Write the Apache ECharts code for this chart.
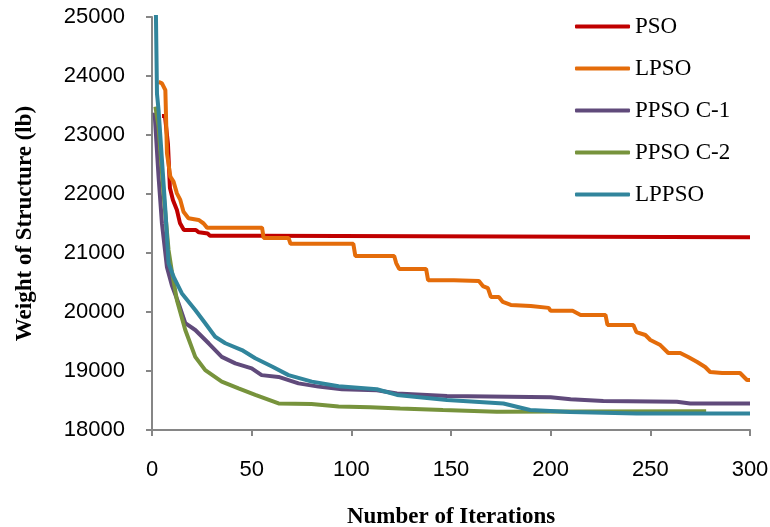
<!DOCTYPE html>
<html>
<head>
<meta charset="utf-8">
<title>Weight of Structure vs Iterations</title>
<script src="https://cdn.jsdelivr.net/npm/echarts@6/dist/echarts.min.js"></script>
<style>
  html, body { margin: 0; padding: 0; background: #fff; }
  #chart { width: 770px; height: 527px; }
</style>
</head>
<body>
<div id="chart"></div>
<script>
// [iteration, weight (lb)]
var seriesNames = ['PSO', 'LPSO', 'PPSO C-1', 'PPSO C-2', 'LPPSO']

var pso = [
  [5, 23320], [6.5, 23320], [8, 22850], [9, 22100], [10.5, 21900], [12.5, 21730],
  [14, 21510], [16, 21390], [22, 21390], [23.5, 21350], [28, 21330], [29, 21293],
  [53, 21293], [54, 21266], [300, 21266]
]

var lpso = [
  [3.3, 23900], [5, 23875], [6.7, 23760], [7.5, 22690], [9.2, 22295], [10.8, 22210],
  [12.5, 22010], [14.2, 21900], [15.8, 21700], [18.3, 21590], [23.4, 21560], [25.9, 21500],
  [27.6, 21430], [55.2, 21430], [56, 21255], [68.5, 21255], [69.5, 21155], [101, 21155],
  [102, 20950], [121.5, 20950], [122.5, 20830], [124, 20730], [137.5, 20730], [138.5, 20540],
  [151.5, 20540], [152.5, 20525], [164, 20525], [166, 20440], [168.5, 20405], [170, 20255],
  [174, 20255], [176, 20170], [180, 20120], [190, 20100], [191, 20070], [199, 20070],
  [200, 20020], [211, 20020], [215, 19950], [227.5, 19950], [228.5, 19780], [241.5, 19780],
  [243, 19660], [247.5, 19610], [250, 19525], [255, 19440], [259, 19305], [265, 19305],
  [269, 19237], [273.5, 19153], [277.5, 19068], [280, 18983], [286, 18966], [295, 18966],
  [298.5, 18847], [300, 18847]
]

var ppsoC1 = [
  [1.3, 23380], [3.3, 22290], [5, 21500], [7.5, 20760], [10, 20450], [13.3, 20150],
  [16.7, 19810], [21.7, 19695], [28.4, 19470], [35, 19240], [41.8, 19130], [50, 19045],
  [55, 18930], [63.5, 18900], [73.5, 18790], [83.5, 18735], [95.3, 18690], [112.8, 18675],
  [122.9, 18620], [148, 18575], [200, 18555], [210, 18520], [226.4, 18490], [263.3, 18480],
  [270, 18450], [300, 18450]
]

var ppsoC2 = [
  [1.7, 23480], [3.3, 23140], [5.8, 22010], [8.3, 21050], [10, 20680], [12.5, 20200],
  [16.7, 19695], [21.7, 19240], [26.7, 19015], [35, 18820], [43.4, 18705], [51.8, 18595],
  [63.5, 18450], [80, 18440], [93.6, 18400], [109.5, 18385], [124.5, 18365], [146, 18340],
  [173, 18310], [210, 18315], [278, 18318]
]

var lppso = [
  [1, 27500], [2.5, 23700], [3.3, 23420], [5, 22575], [6.7, 21730], [8.3, 20825],
  [10.8, 20600], [15, 20315], [21.7, 20035], [26.7, 19810], [31.7, 19580], [36.8, 19470],
  [45.1, 19355], [51.8, 19215], [60.2, 19075], [68.5, 18930], [80.2, 18820], [93.6, 18740],
  [112.8, 18690], [122.9, 18595], [148, 18510], [176.3, 18450], [189.7, 18340], [209.8, 18305],
  [243.1, 18280], [300, 18280]
]

var seriesData = [pso, lpso, ppsoC1, ppsoC2, lppso]
var colors = ['#C00000', '#E46C0A', '#604A7B', '#77933C', '#31859C']

var chart = echarts.init(document.getElementById('chart'))

var axisLine = { lineStyle: { color: '#868686', width: 2 } }
var axisTick = { inside: false, length: 6, lineStyle: { color: '#868686', width: 2 } }
var plainNumber = function(v) { return String(v) }

chart.setOption({
  animation: false,
  color: colors,
  grid: {
    left: 152,
    right: 20,
    top: 17,
    bottom: 97,
    containLabel: false,
    outerBoundsMode: 'none'
  },
  legend: {
    orient: 'vertical',
    left: 570,
    top: 10,
    icon: 'roundRect',
    itemWidth: 55,
    itemHeight: 4,
    itemGap: 19,
    textStyle: {
      fontFamily: 'Liberation Serif',
      fontSize: 23,
      color: '#000'
    },
    data: seriesNames
  },
  xAxis: {
    type: 'value',
    min: 0,
    max: 300,
    interval: 50,
    name: 'Number of Iterations',
    nameLocation: 'middle',
    nameGap: 76,
    nameTextStyle: {
      fontFamily: 'Liberation Serif',
      fontWeight: 'bold',
      fontSize: 23,
      color: '#000'
    },
    axisLine: axisLine,
    axisTick: axisTick,
    splitLine: { show: false },
    axisLabel: {
      margin: 29,
      formatter: plainNumber,
      fontFamily: 'Liberation Sans',
      fontSize: 22,
      color: '#000'
    }
  },
  yAxis: {
    type: 'value',
    min: 18000,
    max: 25000,
    interval: 1000,
    name: 'Weight of Structure (lb)',
    nameLocation: 'middle',
    nameGap: 115,
    nameTextStyle: {
      fontFamily: 'Liberation Serif',
      fontWeight: 'bold',
      fontSize: 23,
      color: '#000'
    },
    axisLine: axisLine,
    axisTick: axisTick,
    splitLine: { show: false },
    axisLabel: {
      margin: 27,
      formatter: plainNumber,
      fontFamily: 'Liberation Sans',
      fontSize: 22,
      color: '#000'
    }
  },
  series: seriesNames.map(function(name, i) {
    return {
      name: name,
      type: 'line',
      symbol: 'none',
      clip: true,
      lineStyle: { width: 4, color: colors[i] },
      data: seriesData[i]
    }
  })
})
</script>
</body>
</html>
